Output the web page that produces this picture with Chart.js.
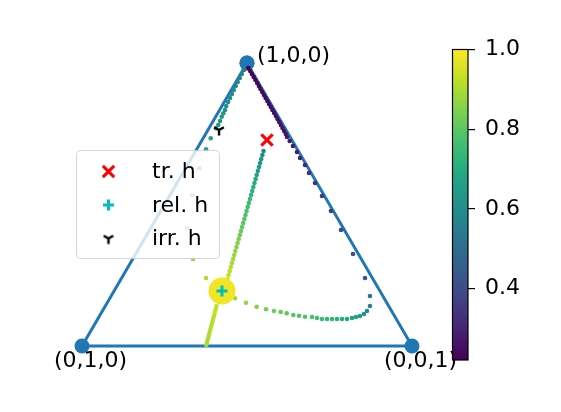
<!DOCTYPE html>
<html>
<head>
<meta charset="utf-8">
<script src="https://cdn.jsdelivr.net/npm/chart.js@4.4.0/dist/chart.umd.min.js"></script>
<style>
  body { margin: 0; background: #fff; }
  #wrap { width: 561px; height: 412px; }
</style>
</head>
<body>
<div id="wrap"><canvas id="ternChart" width="561" height="412"></canvas></div>
<script>
// Sommets du triangle (coordonnées cartésiennes du simplexe)
const vertexLabels = ['(1,0,0)', '(0,1,0)', '(0,0,1)'];
const vertX = [0.5, 0, 1];
const vertY = [0.866, 0, 0];

// Trajectoire A : bord droit puis courbe du bas
const trajAX = [0.5042,0.5097,0.5148,0.5203,0.5255,0.5309,0.5361,0.5409,0.5461,0.5515,0.5564,0.5618,0.5667,0.5721,0.5770,0.5824,0.5876,0.5924,0.5976,0.6024,0.6076,0.6124,0.6176,0.6212,0.6294,0.6394,0.6515,0.6606,0.6758,0.6879,0.7061,0.7273,0.7545,0.7848,0.8212,0.8576,0.8727,0.8727,0.8636,0.8545,0.8424,0.8303,0.8182,0.8030,0.7879,0.7727,0.7576,0.7424,0.7273,0.7121,0.6970,0.6758,0.6576,0.6403,0.6203,0.6021,0.5818,0.5576,0.5294,0.4970,0.4636];
const trajAY = [0.8507,0.8415,0.8323,0.8231,0.8140,0.8048,0.7956,0.7864,0.7772,0.7681,0.7589,0.7497,0.7405,0.7313,0.7222,0.7130,0.7038,0.6946,0.6854,0.6763,0.6671,0.6579,0.6487,0.6395,0.6273,0.6120,0.5936,0.5753,0.5539,0.5294,0.4988,0.4590,0.4131,0.3550,0.2815,0.2081,0.1530,0.1224,0.1071,0.0979,0.0918,0.0887,0.0857,0.0826,0.0826,0.0826,0.0826,0.0826,0.0826,0.0857,0.0887,0.0897,0.0927,0.0949,0.1001,0.1040,0.1071,0.1123,0.1203,0.1325,0.1460];
const trajAVal = [0.221,0.223,0.225,0.227,0.229,0.231,0.233,0.235,0.237,0.239,0.241,0.243,0.245,0.247,0.249,0.251,0.253,0.255,0.257,0.259,0.261,0.263,0.265,0.268,0.272,0.278,0.285,0.293,0.302,0.313,0.326,0.342,0.362,0.384,0.405,0.425,0.53,0.56,0.59,0.615,0.635,0.655,0.67,0.685,0.70,0.712,0.724,0.735,0.745,0.755,0.765,0.775,0.785,0.795,0.805,0.815,0.826,0.838,0.852,0.868,0.885];

// Trajectoire B : depuis tr. h vers le point fixe
const trajBX = [0.5500,0.5466,0.5432,0.5398,0.5364,0.5329,0.5295,0.5261,0.5227,0.5193,0.5159,0.5125,0.5091,0.5056,0.5022,0.4988,0.4954,0.4920,0.4886,0.4852,0.4818,0.4783,0.4749,0.4715,0.4681,0.4647,0.4613,0.4579,0.4545,0.4511,0.4476,0.4442,0.4408,0.4374];
const trajBY = [0.5967,0.5845,0.5722,0.5600,0.5477,0.5355,0.5233,0.5110,0.4988,0.4865,0.4743,0.4621,0.4498,0.4376,0.4253,0.4131,0.4009,0.3886,0.3764,0.3641,0.3519,0.3397,0.3274,0.3152,0.3029,0.2907,0.2785,0.2662,0.2540,0.2417,0.2295,0.2173,0.2050,0.1928];
const trajBVal = [0.58,0.60,0.615,0.63,0.645,0.66,0.672,0.684,0.696,0.707,0.718,0.728,0.738,0.748,0.758,0.768,0.778,0.788,0.798,0.808,0.818,0.828,0.838,0.848,0.858,0.868,0.878,0.888,0.898,0.908,0.918,0.928,0.938,0.948];

// Trajectoire C : bord gauche puis descente
const trajCX = [0.4906,0.4842,0.4782,0.4718,0.4658,0.4600,0.4542,0.4485,0.4427,0.4370,0.4333,0.4282,0.4233,0.4182,0.4130,0.4061,0.3900,0.3758,0.3555,0.3333,0.3182,0.3364,0.3758];
const trajCY = [0.8446,0.8323,0.8201,0.8078,0.7956,0.7834,0.7711,0.7589,0.7466,0.7344,0.7222,0.7121,0.7017,0.6885,0.6763,0.6662,0.6356,0.6019,0.5438,0.4621,0.3611,0.2662,0.2081];
const trajCVal = [0.56,0.565,0.57,0.575,0.58,0.585,0.59,0.595,0.60,0.605,0.61,0.615,0.62,0.625,0.63,0.635,0.655,0.68,0.73,0.78,0.83,0.87,0.905];

// Trajectoire D : depuis le bord du bas
const trajDX = [0.3767,0.3791,0.3815,0.3839,0.3861,0.3885,0.3909,0.3933,0.3958,0.3982,0.4006,0.4027,0.4052,0.4076];
const trajDY = [0.0031,0.0122,0.0214,0.0306,0.0398,0.0490,0.0581,0.0673,0.0765,0.0857,0.0949,0.1040,0.1132,0.1224];
const trajDVal = [0.895,0.898,0.901,0.904,0.907,0.910,0.913,0.916,0.919,0.922,0.925,0.928,0.931,0.935];

// Point fixe et marqueurs
const fixedX = [0.4242], fixedY = [0.1683], fixedVal = [0.985];
const trX = [0.5606], trY = [0.6304];
const relX = [0.4242], relY = [0.1683];
const irrX = [0.4152], irrY = [0.6610];

// Barre de couleur
const cbMin = 0.221, cbMax = 1.0;
const cbTicks = [0.4, 0.6, 0.8, 1.0];

const VIRIDIS = [[68,1,84],[72,36,117],[65,68,135],[53,95,141],[42,120,142],[33,145,140],[34,168,132],[68,191,112],[122,209,81],[189,223,38],[253,231,37]];

function viridis(t) {
    t = Math.min(1, Math.max(0, t));
    const p = t * 10;
    const i = Math.min(9, Math.floor(p));
    const f = p - i;
    const a = VIRIDIS[i], b = VIRIDIS[i + 1];
    const c = [0, 1, 2].map(k => Math.round(a[k] + (b[k] - a[k]) * f));
    return `rgb(${c[0]},${c[1]},${c[2]})`;
}

function colorFor(v) {
    return viridis((v - cbMin) / (cbMax - cbMin));
}

function pts(xs, ys) {
    return xs.map((x, i) => ({ x: x, y: ys[i] }));
}

function trajDataset(xs, ys, vals) {
    return {
        data: pts(xs, ys),
        pointRadius: 2.3,
        pointBorderWidth: 0,
        pointBackgroundColor: vals.map(colorFor),
        order: 5,
        clip: false
    };
}

// Marqueur "tri_down" dessiné sur un petit canvas
function makeTriDown() {
    const c = document.createElement('canvas');
    c.width = 14; c.height = 14;
    const g = c.getContext('2d');
    g.strokeStyle = '#000';
    g.lineWidth = 2.4;
    g.lineCap = 'butt';
    g.beginPath();
    g.moveTo(7, 7); g.lineTo(7, 12.5);
    g.moveTo(7, 7); g.lineTo(2.2, 4.2);
    g.moveTo(7, 7); g.lineTo(11.8, 4.2);
    g.stroke();
    return c;
}
const triDown = makeTriDown();

const FONT = '22px "DejaVu Sans"';

// Étiquettes des sommets
const vertexLabelPlugin = {
    id: 'vertexLabels',
    afterDatasetsDraw(chart) {
        const ctx = chart.ctx;
        const sx = chart.scales.x, sy = chart.scales.y;
        ctx.save();
        ctx.font = FONT;
        ctx.fillStyle = '#000';
        ctx.textBaseline = 'alphabetic';
        ctx.textAlign = 'left';
        ctx.fillText(vertexLabels[0], sx.getPixelForValue(vertX[0]) + 10, sy.getPixelForValue(vertY[0]) - 1);
        ctx.textAlign = 'center';
        ctx.fillText(vertexLabels[1], sx.getPixelForValue(vertX[1]) + 8.5, sy.getPixelForValue(vertY[1]) + 21);
        ctx.fillText(vertexLabels[2], sx.getPixelForValue(vertX[2]) + 8.5, sy.getPixelForValue(vertY[2]) + 21);
        ctx.restore();
    }
};

// Barre de couleur à droite
const colorbarPlugin = {
    id: 'colorbar',
    afterDraw(chart) {
        const ctx = chart.ctx;
        const cb = chart.scales.cb;
        const x1 = chart.chartArea.right;
        const x0 = x1 - 15.5;
        const yTop = cb.getPixelForValue(cbMax);
        const yBot = cb.getPixelForValue(cbMin);
        ctx.save();
        const grad = ctx.createLinearGradient(0, yBot, 0, yTop);
        VIRIDIS.forEach((c, i) => grad.addColorStop(i / 10, `rgb(${c[0]},${c[1]},${c[2]})`));
        ctx.fillStyle = grad;
        ctx.fillRect(x0, yTop, x1 - x0, yBot - yTop);
        ctx.strokeStyle = '#000';
        ctx.lineWidth = 1.2;
        ctx.strokeRect(x0, yTop, x1 - x0, yBot - yTop);
        ctx.restore();
    }
};

// Légende encadrée semi-transparente
const legendPlugin = {
    id: 'boxLegend',
    afterDraw(chart) {
        const ctx = chart.ctx;
        ctx.save();
        ctx.beginPath();
        ctx.roundRect(76.5, 150.5, 143, 108, 4);
        ctx.fillStyle = 'rgba(255,255,255,0.8)';
        ctx.fill();
        ctx.strokeStyle = 'rgba(204,204,204,0.8)';
        ctx.lineWidth = 1;
        ctx.stroke();

        const items = chart.data.datasets.filter(d => d.label);
        items.forEach((d, i) => {
            const y = 171.5 + i * 33.5;
            ctx.strokeStyle = d.pointBorderColor;
            ctx.fillStyle = d.pointBorderColor;
            ctx.lineWidth = d.pointBorderWidth || 1;
            Chart.helpers.drawPoint(ctx, {
                pointStyle: d.pointStyle,
                radius: d.pointRadius,
                borderWidth: d.pointBorderWidth,
                rotation: 0
            }, 108.5, y);
            ctx.fillStyle = '#000';
            ctx.font = FONT;
            ctx.textAlign = 'left';
            ctx.textBaseline = 'alphabetic';
            ctx.fillText(d.label, 152, y + 6.5);
        });
        ctx.restore();
    }
};

const triangle = pts(vertX.concat([vertX[0]]), vertY.concat([vertY[0]]));

new Chart(document.getElementById('ternChart'), {
    type: 'scatter',
    data: {
        datasets: [
            {
                data: triangle,
                showLine: true,
                borderColor: '#1f77b4',
                borderWidth: 3,
                pointRadius: 7.5,
                pointBackgroundColor: '#1f77b4',
                pointBorderWidth: 0,
                order: 10,
                clip: false
            },
            trajDataset(trajAX, trajAY, trajAVal),
            trajDataset(trajBX, trajBY, trajBVal),
            trajDataset(trajCX, trajCY, trajCVal),
            trajDataset(trajDX, trajDY, trajDVal),
            {
                data: pts(fixedX, fixedY),
                pointRadius: 13.5,
                pointBorderWidth: 0,
                pointBackgroundColor: fixedVal.map(colorFor),
                order: 4,
                clip: false
            },
            {
                label: 'tr. h',
                data: pts(trX, trY),
                pointStyle: 'crossRot',
                pointRadius: 8,
                pointBorderWidth: 3,
                pointBorderColor: '#ff0000',
                order: 1,
                clip: false
            },
            {
                label: 'rel. h',
                data: pts(relX, relY),
                pointStyle: 'cross',
                pointRadius: 5.5,
                pointBorderWidth: 3,
                pointBorderColor: '#00bfbf',
                order: 1,
                clip: false
            },
            {
                label: 'irr. h',
                data: pts(irrX, irrY),
                pointStyle: triDown,
                pointRadius: 6,
                pointBorderWidth: 0,
                pointBorderColor: '#000000',
                order: 1,
                clip: false
            }
        ]
    },
    options: {
        responsive: false,
        animation: false,
        events: [],
        layout: {
            padding: { left: 40, right: 33, top: 49.5, bottom: 52 }
        },
        plugins: {
            legend: { display: false },
            tooltip: { enabled: false }
        },
        scales: {
            x: { type: 'linear', min: -0.12727, max: 1.16970, display: false },
            y: { type: 'linear', min: -0.04284, max: 0.90728, display: false },
            cb: {
                type: 'linear',
                position: 'right',
                min: cbMin,
                max: cbMax,
                grid: { drawOnChartArea: false, drawTicks: true, tickLength: 7, color: '#000', lineWidth: 1.2 },
                border: { display: false },
                ticks: {
                    color: '#000',
                    padding: 10,
                    font: { family: 'DejaVu Sans', size: 22 },
                    callback: v => v.toFixed(1)
                },
                afterBuildTicks: s => { s.ticks = cbTicks.map(v => ({ value: v })); },
                afterFit: s => { s.width = 60; }
            }
        }
    },
    plugins: [vertexLabelPlugin, colorbarPlugin, legendPlugin]
});
</script>
</body>
</html>
